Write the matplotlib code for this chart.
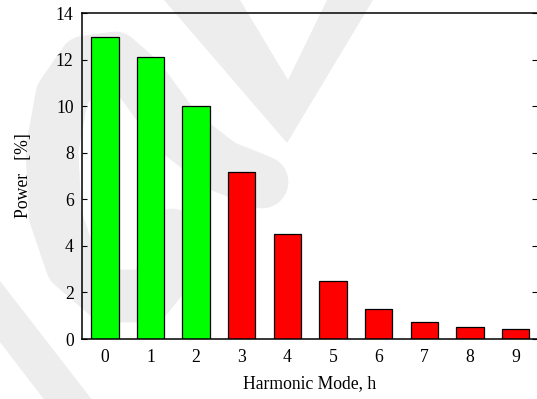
import numpy as np
import matplotlib
matplotlib.use('Agg')
import matplotlib.pyplot as plt
from matplotlib.patches import Polygon
from matplotlib.lines import Line2D

# harmonic power share per mode
modes = list(range(10))
power = [12.95, 12.12, 9.99, 7.18, 4.52, 2.50, 1.29, 0.72, 0.53, 0.44]
bar_colors = ['#00ff00'] * 3 + ['#ff0000'] * 7
yticks = [0, 2, 4, 6, 8, 10, 12, 14]

plt.rcParams['font.family'] = 'serif'
plt.rcParams['font.serif'] = ['Liberation Serif', 'DejaVu Serif']

W, H = 537, 399
fig = plt.figure(figsize=(W / 100, H / 100), dpi=100)
fig.patch.set_facecolor('white')


def px(pts):
    # pixel coords (y down) -> figure fraction
    return [(x / W, 1 - y / H) for x, y in pts]


# faint background logo
wm = '#ededed'
fig.add_artist(Polygon(px([(164, 0), (240, 0), (288, 80), (327, 0), (373, 0), (287, 143)]),
                       closed=True, transform=fig.transFigure, fc=wm, ec='none', zorder=-5))
fig.add_artist(Polygon(px([(0, 281), (100, 410), (52, 410), (0, 342)]),
                       closed=True, transform=fig.transFigure, fc=wm, ec='none', zorder=-5))
curl = px([(262, 182), (222, 166), (178, 132), (140, 80), (115, 58), (85, 62), (62, 95),
           (52, 150), (55, 215), (72, 265), (108, 296), (148, 296), (170, 268), (172, 235)])
fig.add_artist(Line2D([p[0] for p in curl], [p[1] for p in curl], transform=fig.transFigure,
                      color=wm, lw=38, solid_capstyle='round', solid_joinstyle='round', zorder=-5))

ax = fig.add_axes([82 / W, 1 - 339 / H, 1 - 82 / W, (339 - 13) / H])
ax.patch.set_visible(False)

ax.bar(modes, power, width=0.6, color=bar_colors, edgecolor='black', linewidth=0.9, zorder=2)

fs = 12.7
ax.set_xlim(-0.5, 9.47)
ax.set_ylim(0, 14)
ax.set_xticks(modes)
ax.set_yticks(yticks)
ax.tick_params(axis='x', length=0, pad=7, labelsize=fs)
ax.tick_params(axis='y', direction='in', length=3.5, width=0.8, left=True, right=True,
               pad=6, labelsize=fs)
ax.spines['right'].set_visible(False)
for s in ['left', 'top', 'bottom']:
    ax.spines[s].set_linewidth(1.1)

ax.set_xlabel('Harmonic Mode, h', fontsize=fs, labelpad=7)
ax.set_ylabel('Power   [%]', fontsize=fs, labelpad=17)

fig.savefig('out.png', dpi=100)
